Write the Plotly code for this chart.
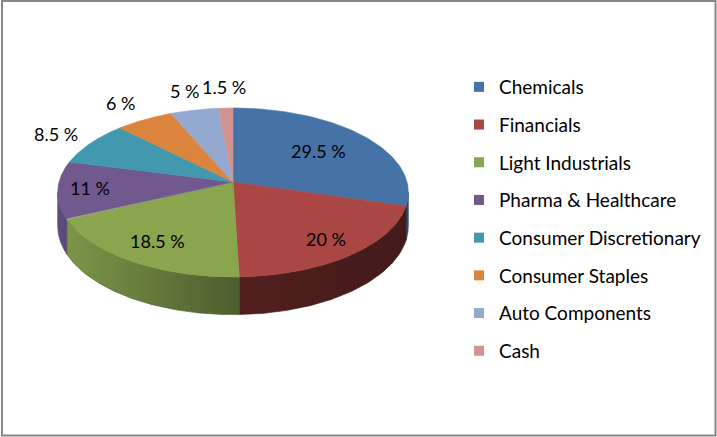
import numpy as np
import plotly.graph_objects as go

# ---- data ----
categories = ["Chemicals", "Financials", "Light Industrials", "Pharma & Healthcare",
              "Consumer Discretionary", "Consumer Staples", "Auto Components", "Cash"]
values = [29.5, 20, 18.5, 11, 8.5, 6, 5, 1.5]

# ---- style ----
top_colors = ["#4572A7", "#AA4643", "#89A54E", "#71588F", "#4198AF", "#DB843D", "#93A9CF", "#D19392"]
wall_colors = [("#2f4f77", "#2a4669"), ("#521f1f", "#431a1a"), ("#7b9648", "#4c5e2e"),
               ("#614c80", "#5a4776"), ("#2d6c7c", "#2d6c7c"), ("#9c5d2b", "#9c5d2b"),
               ("#687893", "#687893"), ("#946868", "#946868")]
label_r = [0.64, 0.8, 0.76, 0.82, 1.26, 1.3, 1.3, 1.33]
FONT = "Lato"

W, H = 717, 437
CX, CY = 233.0, 182.0     # apex of the pie on screen
RX, RY = 174.0, 83.2      # projected radii
K = 0.124                 # perspective strength
DEPTH = 33.0              # thickness of the pie


def proj(theta, r=1.0, z=0.0):
    u = r * np.sin(theta)
    v = -r * np.cos(theta)
    s = 1.0 / (1.0 - K * v)
    return CX + RX * u * s, CY + RY * v * s + z * s


fig = go.Figure()

total = float(sum(values))
bounds = np.concatenate([[0.0], np.cumsum(values)]) / total * 2 * np.pi
vis_a, vis_b = np.arccos(-K), 2 * np.pi - np.arccos(-K)

# side walls (front, visible part)
for i in range(len(values)):
    a, b = max(bounds[i], vis_a), min(bounds[i + 1], vis_b)
    if b <= a:
        continue
    th = np.linspace(a, b, 80)
    xt, yt = proj(th)
    xb, yb = proj(th[::-1], 1.0, DEPTH)
    xs = np.concatenate([xt, xb, xt[:1]])
    ys = np.concatenate([yt, yb, yt[:1]])
    c1, c2 = wall_colors[i]
    fig.add_trace(go.Scatter(
        x=xs, y=ys, mode="lines", fill="toself",
        line=dict(width=0.6, color=c2),
        fillgradient=dict(type="horizontal", colorscale=[[0, c1], [1, c2]]),
        hoverinfo="skip", showlegend=False))

# top faces
for i in range(len(values)):
    th = np.linspace(bounds[i], bounds[i + 1], 100)
    xa, ya = proj(th)
    xs = np.concatenate([[CX], xa, [CX]])
    ys = np.concatenate([[CY], ya, [CY]])
    fig.add_trace(go.Scatter(
        x=xs, y=ys, mode="lines", fill="toself", fillcolor=top_colors[i],
        line=dict(width=0.6, color=top_colors[i]),
        name=categories[i], hoverinfo="name", showlegend=False))

# legend entries
for i, cat in enumerate(categories):
    fig.add_trace(go.Scatter(
        x=[None], y=[None], mode="markers", name=cat, legendgroup=cat,
        marker=dict(symbol="square", size=10, color=top_colors[i])))

# data labels
for i, v in enumerate(values):
    mid = (bounds[i] + bounds[i + 1]) / 2
    x, y = proj(mid, label_r[i])
    fig.add_annotation(x=x, y=y, text=f"{v:g} %", showarrow=False,
                       font=dict(family=FONT, size=18, color="#000000"),
                       xanchor="center", yanchor="middle")

# chart border
fig.add_shape(type="rect", x0=2, x1=715.5, y0=1, y1=435.5,
              line=dict(color="#868686", width=2), layer="above")

fig.update_layout(
    width=W, height=H, autosize=False,
    margin=dict(l=0, r=0, t=0, b=0),
    paper_bgcolor="white", plot_bgcolor="white",
    xaxis=dict(range=[0, W], visible=False, fixedrange=True),
    yaxis=dict(range=[H, 0], visible=False, fixedrange=True),
    showlegend=True,
    legend=dict(x=459 / W, y=1 - 68 / H, xanchor="left", yanchor="top",
                font=dict(family=FONT, size=19, color="#000000"),
                traceorder="grouped", tracegroupgap=10,
                bgcolor="rgba(0,0,0,0)", itemclick=False, itemdoubleclick=False),
)

fig.write_html("out.html", config={"displayModeBar": False},
               post_script="document.body.style.margin='0';document.body.style.overflow='hidden';")
